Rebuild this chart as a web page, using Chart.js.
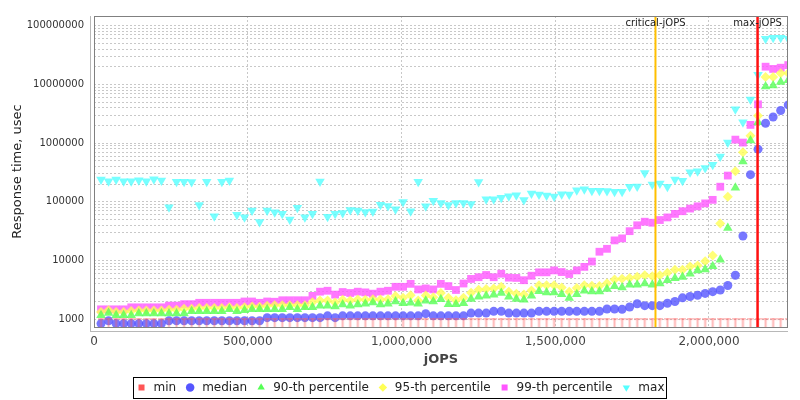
<!DOCTYPE html>
<html>
<head>
<meta charset="utf-8">
<title>Response time vs jOPS</title>
<script src="https://cdn.jsdelivr.net/npm/chart.js@4.4.1/dist/chart.umd.min.js"></script>
<style>
  html, body { margin: 0; padding: 0; background: #ffffff; }
  #chart-wrap { width: 800px; height: 400px; }
</style>
</head>
<body>
<div id="chart-wrap"><canvas id="rt-chart" width="800" height="400"></canvas></div>
<script>
const jops = [
  22800, 47360, 71920, 96480, 121040, 145600, 170160, 194720, 219280, 243840,
  268400, 292960, 317520, 342080, 366640, 391200, 415760, 440320, 464880, 489440,
  514000, 538560, 563120, 587680, 612240, 636800, 661360, 685920, 710480, 735040,
  759600, 784160, 808720, 833280, 857840, 882400, 906960, 931520, 956080, 980640,
  1005200, 1029760, 1054320, 1078880, 1103440, 1128000, 1152560, 1177120, 1201680, 1226240,
  1250800, 1275360, 1299920, 1324480, 1349040, 1373600, 1398160, 1422720, 1447280, 1471840,
  1496400, 1520960, 1545520, 1570080, 1594640, 1619200, 1643760, 1668320, 1692880, 1717440,
  1742000, 1766560, 1791120, 1815680, 1840240, 1864800, 1889360, 1913920, 1938480, 1963040,
  1987600, 2012160, 2036720, 2061280, 2085840, 2110400, 2134960, 2159520, 2184080, 2208640,
  2233200, 2257760
];

const minRt = [
  1000, 1000, 1000, 1000, 1000, 1000, 1000, 1000, 1000, 1000,
  1000, 1000, 1000, 1000, 1000, 1000, 1000, 1000, 1000, 1000,
  1000, 1000, 1000, 1000, 1000, 1000, 1000, 1000, 1000, 1000,
  1000, 1000, 1000, 1000, 1000, 1000, 1000, 1000, 1000, 1000,
  1000, 1000, 1000, 1000, 1000, 1000, 1000, 1000, 1000, 1000,
  1000, 1000, 1000, 1000, 1000, 1000, 1000, 1000, 1000, 1000,
  1000, 1000, 1000, 1000, 1000, 1000, 1000, 1000, 1000, 1000,
  1000, 1000, 1000, 1000, 1000, 1000, 1000, 1000, 1000, 1000,
  1000, 1000, 1000, 1000, 1000, 1000, 1000, 1000, 1000, 1000,
  1000, 1000
];

const medianRt = [
  840, 940, 840, 840, 840, 840, 840, 840, 840, 940,
  940, 940, 940, 940, 940, 940, 940, 940, 940, 940,
  940, 940, 1060, 1060, 1060, 1060, 1060, 1060, 1060, 1060,
  1140, 1060, 1140, 1140, 1140, 1140, 1140, 1140, 1140, 1140,
  1140, 1140, 1140, 1240, 1140, 1140, 1140, 1140, 1140, 1270,
  1270, 1270, 1360, 1360, 1270, 1270, 1270, 1270, 1360, 1360,
  1360, 1360, 1360, 1360, 1360, 1360, 1360, 1490, 1490, 1470,
  1610, 1830, 1700, 1700, 1700, 1870, 2000, 2310, 2430, 2550,
  2750, 2940, 3140, 3750, 5590, 26100, 290000, 790000, 2180000, 2790000,
  3600000, 4480000
];

const p90Rt = [
  1170, 1270, 1170, 1170, 1170, 1250, 1250, 1250, 1250, 1250,
  1250, 1250, 1360, 1360, 1360, 1360, 1360, 1470, 1360, 1420,
  1470, 1470, 1470, 1470, 1470, 1600, 1470, 1600, 1600, 1700,
  1700, 1650, 1780, 1700, 1780, 1830, 1920, 1780, 1830, 2000,
  1870, 1900, 1830, 2050, 2000, 2180, 1800, 1800, 1870, 2200,
  2400, 2500, 2600, 2800, 2400, 2200, 2150, 2500, 3000, 2850,
  2850, 2650, 2300, 2650, 3050, 2950, 2950, 3250, 3650, 3470,
  3850, 3850, 4050, 3850, 4050, 4610, 4980, 5240, 5950, 6780,
  7050, 8000, 10340, 35800, 173000, 488000, 1110000, 2270000, 9260000, 9620000,
  11000000, 11800000
];

const p95Rt = [
  1320, 1420, 1320, 1320, 1380, 1400, 1400, 1400, 1400, 1450,
  1450, 1500, 1500, 1550, 1550, 1550, 1550, 1600, 1550, 1600,
  1650, 1620, 1700, 1730, 1730, 1730, 1730, 1730, 1950, 2080,
  2080, 1920, 2140, 2080, 2160, 2140, 2190, 2160, 2190, 2490,
  2310, 2550, 2080, 2520, 2360, 2790, 2310, 2100, 2310, 2830,
  3180, 3260, 3340, 3560, 2940, 2720, 2620, 3090, 3800, 3800,
  3800, 3470, 2940, 3390, 3800, 3700, 3660, 4110, 4720, 4900,
  5040, 5290, 5590, 5380, 5590, 6190, 6930, 6930, 7910, 8210,
  9670, 12200, 42500, 121700, 331000, 697000, 1340000, 2930000, 13400000, 13400000,
  15600000, 15600000
];

const p99Rt = [
  1470, 1470, 1470, 1470, 1590, 1590, 1590, 1590, 1590, 1700,
  1700, 1800, 1800, 1900, 1900, 1900, 1900, 1900, 1900, 2000,
  2000, 1900, 2000, 1980, 2100, 2100, 2100, 2100, 2490, 2940,
  3050, 2620, 2900, 2790, 2940, 2860, 2720, 2940, 3050, 3560,
  3560, 4000, 3210, 3340, 3210, 4000, 3660, 3140, 4050, 4850,
  5180, 5660, 5180, 5950, 5100, 5040, 4610, 5500, 6280, 6280,
  6780, 6350, 5880, 6780, 7780, 9590, 14100, 15800, 22000, 23800,
  31600, 39800, 45800, 44000, 48900, 54200, 62300, 69100, 76700, 83800,
  94000, 108000, 181000, 280000, 1148000, 1023000, 2046000, 4590000, 20100000, 18400000,
  19300000, 21400000
];

const maxRt = [
  240000, 225000, 240000, 225000, 225000, 234000, 225000, 243000, 230000, 80600,
  219000, 219000, 217000, 88100, 219000, 57000, 220000, 230000, 60000, 54800,
  71000, 45300, 71000, 66500, 62300, 50100, 79600, 54800, 62300, 222000,
  55500, 62300, 64700, 72600, 71000, 67300, 68300, 89400, 84700, 74600,
  98900, 69100, 219000, 83800, 104000, 95100, 88100, 95100, 95100, 91600,
  217000, 111000, 111000, 117000, 124000, 129000, 107000, 138000, 133000, 128000,
  123000, 134000, 133000, 157000, 163000, 155000, 155000, 153000, 148000, 148000,
  181000, 183000, 310000, 198000, 206000, 181000, 240000, 228000, 319000, 331000,
  376000, 427000, 590000, 1023000, 3790000, 2270000, 5570000, 14600000, 60000000, 62300000,
  62300000, 60000000
];

const xTickValues = [0, 500000, 1000000, 1500000, 2000000];
const yTickValues = [1000, 10000, 100000, 1000000, 10000000, 100000000];

const criticalJops = 1826000;
const maxJops = 2158000;

const FONT = "'DejaVu Sans', 'Liberation Sans', sans-serif";

document.addEventListener("DOMContentLoaded", () => {
  renderChart();
});

function makeMinMarker() {
  // small "T": bar at the value, stem down to the axis
  const c = document.createElement("canvas");
  c.width = 7;
  c.height = 20;
  const g = c.getContext("2d");
  g.fillStyle = "rgba(255, 90, 90, 0.45)";
  g.fillRect(0, 9, 7, 1.5);
  g.fillRect(2.5, 9, 2, 11);
  return c;
}

function yGridValues() {
  const values = [];
  yTickValues.forEach((decade) => {
    for (let k = 1; k <= 9; k++) {
      const v = decade * k;
      if (v >= 735 && v <= 1.469e8) values.push(v);
    }
  });
  return values;
}

function toPoints(values) {
  return values.map((v, i) => ({ x: jops[i], y: v }));
}

const frameAndMarkers = {
  id: "frameAndMarkers",
  afterDatasetsDraw(chart) {
    const { ctx, chartArea, scales } = chart;
    const { left, right, top, bottom } = chartArea;

    const markers = [
      { value: criticalJops, label: "critical-jOPS", color: "#ffbf00", width: 2 },
      { value: maxJops, label: "max-jOPS", color: "#ff1010", width: 2.5 },
    ];

    ctx.save();
    markers.forEach((m) => {
      const x = scales.x.getPixelForValue(m.value);
      ctx.strokeStyle = m.color;
      ctx.lineWidth = m.width;
      ctx.beginPath();
      ctx.moveTo(x, top);
      ctx.lineTo(x, bottom);
      ctx.stroke();
      ctx.fillStyle = "#222";
      ctx.font = `10px ${FONT}`;
      ctx.textAlign = "center";
      ctx.textBaseline = "middle";
      ctx.fillText(m.label, x, top + 7.5);
    });

    // plot frame
    ctx.strokeStyle = "#808080";
    ctx.lineWidth = 1;
    ctx.strokeRect(left + 0.5, top + 0.5, right - left - 1, bottom - top);

    // offset axis lines
    ctx.strokeStyle = "#b8b8b8";
    ctx.beginPath();
    ctx.moveTo(left - 3.5, top);
    ctx.lineTo(left - 3.5, bottom + 4);
    ctx.moveTo(left - 4, bottom + 4.5);
    ctx.lineTo(right, bottom + 4.5);
    ctx.stroke();
    ctx.restore();
  },
  afterDraw(chart) {
    const boxes = chart.legend && chart.legend.legendHitBoxes;
    if (!boxes || !boxes.length) return;
    const first = boxes[0];
    const last = boxes[boxes.length - 1];
    const ctx = chart.ctx;
    ctx.save();
    ctx.strokeStyle = "#000";
    ctx.lineWidth = 1;
    const x0 = Math.round(first.left - 3) + 0.5;
    const x1 = Math.round(last.left + last.width + 2) + 0.5;
    const y0 = Math.round(first.top - 5) + 0.5;
    const y1 = Math.round(first.top + first.height + 4) + 0.5;
    ctx.strokeRect(x0, y0, x1 - x0, y1 - y0);
    ctx.restore();
  },
};

function renderChart() {
  const ctx = document.getElementById("rt-chart");

  const series = [
    { label: "min", data: minRt, color: "rgba(255, 90, 90, 0.45)", legend: "#ff5555", style: makeMinMarker(), radius: 5, rotation: 0 },
    { label: "median", data: medianRt, color: "rgba(85, 85, 255, 0.8)", legend: "#5555ff", style: "circle", radius: 4.5, rotation: 0 },
    { label: "90-th percentile", data: p90Rt, color: "rgba(85, 255, 85, 0.8)", legend: "#55ff55", style: "triangle", radius: 5.5, rotation: 0 },
    { label: "95-th percentile", data: p95Rt, color: "rgba(255, 255, 85, 0.8)", legend: "#ffff55", style: "rectRot", radius: 5, rotation: 0 },
    { label: "99-th percentile", data: p99Rt, color: "rgba(255, 85, 255, 0.8)", legend: "#ff55ff", style: "rect", radius: 5.5, rotation: 0 },
    { label: "max", data: maxRt, color: "rgba(85, 255, 255, 0.8)", legend: "#55ffff", style: "triangle", radius: 5.5, rotation: 180 },
  ];

  new Chart(ctx, {
    type: "scatter",
    data: {
      datasets: series.map((s) => ({
        label: s.label,
        data: toPoints(s.data),
        showLine: false,
        pointStyle: s.style,
        pointRadius: s.radius,
        pointRotation: s.rotation,
        pointBackgroundColor: s.color,
        backgroundColor: s.color,
        borderColor: s.color,
        pointBorderWidth: 0,
        borderWidth: 0,
      })),
    },
    options: {
      responsive: false,
      animation: false,
      events: [],
      layout: { padding: { top: 10, left: 0, right: 0, bottom: -3.5 } },
      scales: {
        x: {
          type: "linear",
          min: 0,
          max: 2257000,
          afterBuildTicks: (axis) => {
            axis.ticks = xTickValues.map((v) => ({ value: v }));
          },
          afterFit: (axis) => {
            axis.height = 46.5;
          },
          ticks: {
            padding: 8,
            color: "#444",
            maxRotation: 0,
            font: { family: FONT, size: 12 },
            callback: (value) => Number(value).toLocaleString("en-US"),
          },
          grid: { color: "#c8c8c8", drawTicks: false },
          border: { display: false, dash: [2, 2] },
          title: {
            display: true,
            text: "jOPS",
            color: "#444",
            font: { family: FONT, size: 13, weight: "bold" },
            padding: { top: 0, bottom: 5.7 },
          },
        },
        y: {
          type: "logarithmic",
          min: 735,
          max: 1.469e8,
          afterBuildTicks: (axis) => {
            axis.ticks = yGridValues().map((v) => ({ value: v }));
          },
          afterFit: (axis) => {
            axis.width = 94;
          },
          ticks: {
            padding: 10,
            autoSkip: false,
            color: "#333",
            font: { family: FONT, size: 10 },
            callback: (value) => (yTickValues.includes(value) ? String(value) : ""),
          },
          grid: { color: "#c8c8c8", drawTicks: false },
          border: { display: false, dash: [2, 2] },
          title: {
            display: true,
            text: "Response time, usec",
            color: "#222",
            font: { family: FONT, size: 13 },
            padding: { top: 10, bottom: 0 },
          },
        },
        yRight: {
          type: "linear",
          position: "right",
          display: true,
          afterFit: (axis) => {
            axis.width = 12;
          },
          ticks: { display: false },
          grid: { display: false, drawOnChartArea: false },
          border: { display: false },
        },
      },
      plugins: {
        tooltip: { enabled: false },
        legend: {
          position: "bottom",
          labels: {
            usePointStyle: true,
            boxWidth: 12,
            boxHeight: 6,
            padding: 8,
            color: "#222",
            font: { family: FONT, size: 12 },
            generateLabels: (chart) => {
              const items = Chart.defaults.plugins.legend.labels.generateLabels(chart);
              items.forEach((item) => {
                const s = series[item.datasetIndex];
                item.fillStyle = s.legend;
                item.strokeStyle = s.legend;
                item.lineWidth = 0;
                if (item.datasetIndex === 0) item.pointStyle = "rect";
              });
              return items;
            },
          },
        },
      },
    },
    plugins: [frameAndMarkers],
  });
}
</script>
</body>
</html>
